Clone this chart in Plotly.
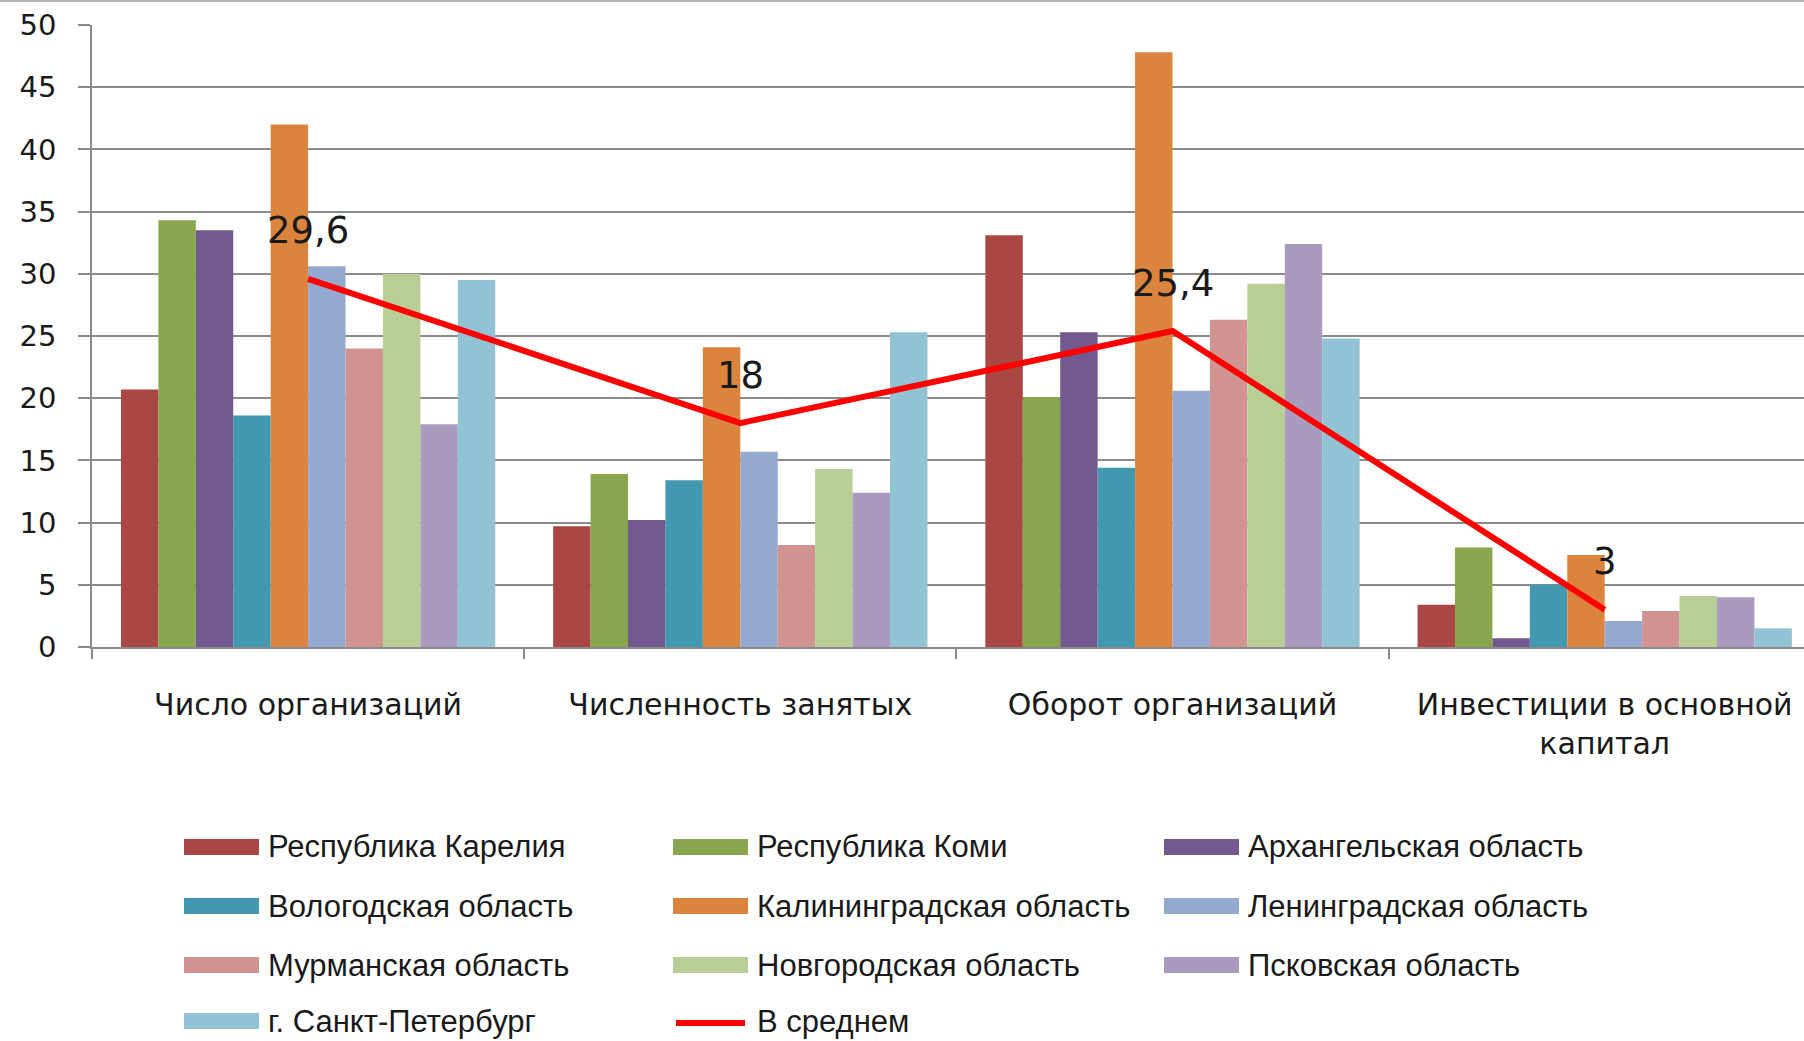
import plotly.graph_objects as go

# data
CATEGORIES = ["Число организаций", "Численность занятых", "Оборот организаций",
              "Инвестиции в основной<br>капитал"]
REGIONS = ["Республика Карелия", "Республика Коми", "Архангельская область",
           "Вологодская область", "Калининградская область", "Ленинградская область",
           "Мурманская область", "Новгородская область", "Псковская область",
           "г. Санкт-Петербург"]
NUM_ORG = [20.7, 34.3, 33.5, 18.6, 42.0, 30.6, 24.0, 30.0, 17.9, 29.5]
EMPLOYED = [9.7, 13.9, 10.2, 13.4, 24.1, 15.7, 8.2, 14.3, 12.4, 25.3]
TURNOVER = [33.1, 20.1, 25.3, 14.4, 47.8, 20.6, 26.3, 29.2, 32.4, 24.8]
INVEST = [3.4, 8.0, 0.7, 5.0, 7.4, 2.1, 2.9, 4.1, 4.0, 1.5]
AVG_NAME = "В среднем"
AVERAGE = [29.6, 18, 25.4, 3]

COLORS = ["#AA4643", "#89A54E", "#71588F", "#4198AF", "#DB843D", "#93A9CF",
          "#D19392", "#B9CD96", "#A99BBD", "#92C3D4"]
RED = "#FF0000"
GRID = "#8a8a8a"
TXT = "#1a1a1a"

W, H = 1804, 1041
L, T, B = 92, 25, 394
PW, PH = W - L, H - T - B


def px_x(px):
    return (px - L) / PW


def px_y(py):
    return (H - B - py) / PH


series = [NUM_ORG, EMPLOYED, TURNOVER, INVEST]
fig = go.Figure()
for i, name in enumerate(REGIONS):
    fig.add_trace(go.Bar(x=CATEGORIES, y=[s[i] for s in series], name=name,
                         marker=dict(color=COLORS[i], line=dict(width=0))))

fig.add_trace(go.Scatter(x=CATEGORIES, y=AVERAGE, name=AVG_NAME, mode="lines",
                         line=dict(color=RED, width=6), cliponaxis=False))

annotations = []
# value labels for the average line
for cat, v in zip(CATEGORIES, AVERAGE):
    annotations.append(dict(x=cat, y=v, xref="x", yref="y", showarrow=False,
                            text=f"{v:g}".replace(".", ","), yanchor="middle", yshift=48,
                            font=dict(family="DejaVu Sans", size=37, color=TXT)))

# legend drawn by hand: wide swatches in three columns
col_swatch = [184, 673, 1164]
row_y = [847, 906, 965, 1021]
names = REGIONS + [AVG_NAME]
shapes = []
for k, name in enumerate(names):
    r, c = divmod(k, 3)
    x0 = col_swatch[c]
    y = row_y[r]
    if k < len(REGIONS):
        shapes.append(dict(type="rect", xref="paper", yref="paper",
                           x0=px_x(x0), x1=px_x(x0 + 75), y0=px_y(y + 8), y1=px_y(y - 8),
                           fillcolor=COLORS[k], line=dict(width=0), layer="above"))
    else:
        shapes.append(dict(type="line", xref="paper", yref="paper",
                           x0=px_x(x0 + 3), x1=px_x(x0 + 72), y0=px_y(y + 2), y1=px_y(y + 2),
                           line=dict(color=RED, width=6), layer="above"))
    annotations.append(dict(xref="paper", yref="paper", x=px_x(x0 + 82), y=px_y(y),
                            text=name, showarrow=False, xanchor="left", yanchor="middle",
                            font=dict(family="Liberation Sans Narrow, Arial Narrow, sans-serif",
                                      size=31, color=TXT)))

# thin border at the very top
shapes.append(dict(type="line", xref="paper", yref="paper", x0=px_x(0), x1=px_x(W),
                   y0=px_y(1), y1=px_y(1), line=dict(color="#9a9a9a", width=1.5)))

fig.update_layout(
    width=W, height=H, paper_bgcolor="white", plot_bgcolor="white",
    margin=dict(l=L, r=0, t=T, b=B, pad=0),
    barmode="group", bargap=0.134, bargroupgap=0, showlegend=False,
    font=dict(family="DejaVu Sans", size=29, color=TXT),
    xaxis=dict(type="category", range=[-0.5, -0.5 + PW / 432.2],
               showline=True, linecolor=GRID, linewidth=1.5,
               ticks="outside", tickson="boundaries", ticklen=10, tickcolor=GRID,
               tickwidth=1.5, showgrid=False, ticklabelstandoff=30,
               tickfont=dict(family="DejaVu Sans", size=30, color=TXT)),
    yaxis=dict(range=[0, 50], dtick=5, showline=True, linecolor=GRID, linewidth=1.5,
               showgrid=True, gridcolor=GRID, gridwidth=1.5, zeroline=False,
               ticks="outside", ticklen=12, tickcolor=GRID, tickwidth=1.5,
               ticklabelstandoff=16,
               tickfont=dict(family="DejaVu Sans", size=29, color=TXT)),
    shapes=shapes, annotations=annotations,
)

fig.write_html("out.html", config={"displayModeBar": False},
               post_script="document.body.style.margin='0px';")
